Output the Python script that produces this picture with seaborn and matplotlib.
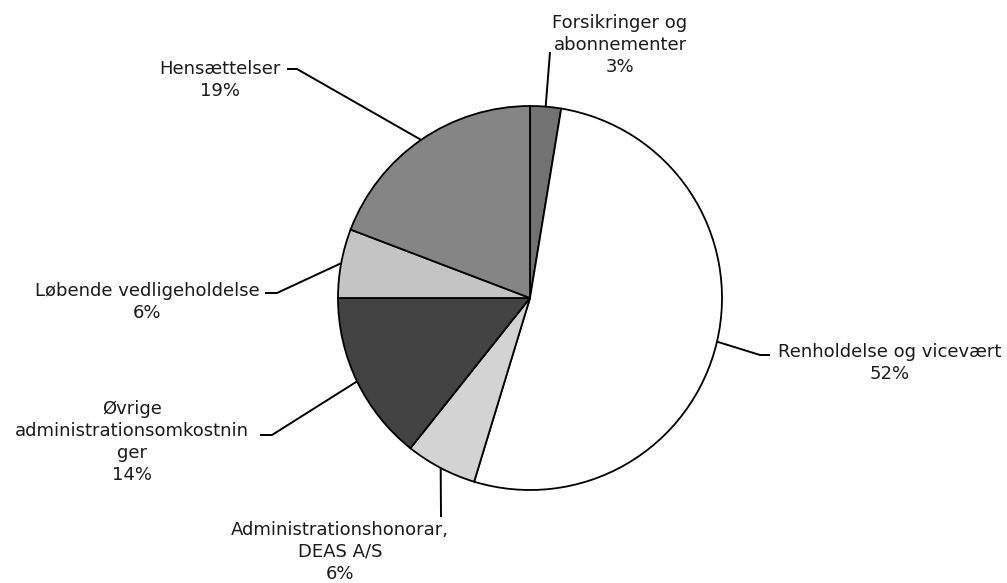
import numpy as np
import matplotlib
matplotlib.use("Agg")
import matplotlib.pyplot as plt
import seaborn as sns

# ---- data ----
categories = ["Forsikringer og\nabonnementer",
              "Renholdelse og vicevært",
              "Administrationshonorar,\nDEAS A/S",
              "Øvrige\nadministrationsomkostnin\nger",
              "Løbende vedligeholdelse",
              "Hensættelser"]
shares = [2.6, 52.1, 6.0, 14.3, 5.8, 19.2]
colors = ["#727272", "#ffffff", "#d3d3d3", "#434343", "#c4c4c4", "#858585"]

# ---- layout (pixels) ----
W, H = 1007, 583
CX, CY, R = 530, 298, 192
label_pos = [(620, 45), (890, 363), (340, 552), (132, 442), (147, 302), (220, 80)]
elbows = [[(550, 52)],
          [(760, 355), (770, 355)],
          [(441, 517)],
          [(272, 435), (260, 435)],
          [(277, 293), (265, 293)],
          [(297, 69), (287, 69)]]

sns.set_theme(style="white")
plt.rcParams['font.family'] = ['DejaVu Sans']


def px(p):
    return ((p[0] - CX) / R, (CY - p[1]) / R)


fig = plt.figure(figsize=(W / 100, H / 100), dpi=100)
fig.patch.set_facecolor("white")
ax = fig.add_axes([0, 0, 1, 1])
wedges, _ = ax.pie(shares, colors=colors, startangle=90, counterclock=False,
                   radius=1, wedgeprops=dict(edgecolor="black", linewidth=1.3))
ax.set_xlim(-CX / R, (W - CX) / R)
ax.set_ylim(-(H - CY) / R, CY / R)
ax.axis("off")

total = sum(shares)
for w, cat, val, lp, el in zip(wedges, categories, shares, label_pos, elbows):
    th = np.deg2rad((w.theta1 + w.theta2) / 2)
    pts = [(np.cos(th), np.sin(th))] + [px(p) for p in el]
    xs, ys = zip(*pts)
    ax.plot(xs, ys, color="black", lw=1.4, solid_capstyle="butt")
    lx, ly = px(lp)
    ax.text(lx, ly, f"{cat}\n{round(val / total * 100):d}%", ha="center", va="center",
            fontsize=13, linespacing=1.27, color="#1a1a1a")

fig.savefig("out.png", dpi=100, facecolor="white")
